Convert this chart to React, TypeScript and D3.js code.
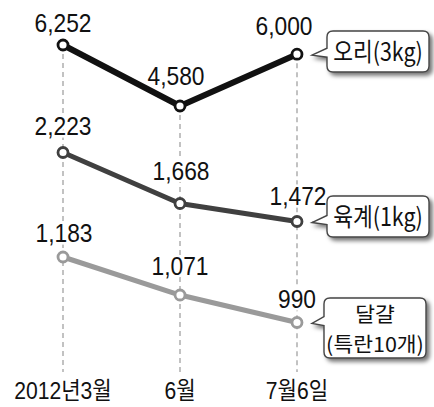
import React from 'react';
import * as d3 from 'd3';

const categories = ['2012년3월', '6월', '7월6일'];
const duckValues = [6252, 4580, 6000];
const broilerValues = [2223, 1668, 1472];
const eggValues = [1183, 1071, 990];
const duckLabel = ['오리(3kg)'];
const broilerLabel = ['육계(1kg)'];
const eggLabel = ['달걀', '(특란10개)'];

const W = 434;
const H = 407;
const NUM_FONT = "'Liberation Sans', Arial, sans-serif";
const KR_FONT = "'Noto Sans CJK KR', 'Noto Sans', sans-serif";

const x = d3.scalePoint<string>().domain(categories).range([63, 297]);

type Series = {
  values: number[];
  label: string[];
  y: d3.ScaleLinear<number, number>;
  color: string;
  width: number;
  labelDy: number[];
  labelDx: number[];
  box: { x0: number; y0: number; x1: number; y1: number };
};

const series: Series[] = [
  {
    values: duckValues,
    label: duckLabel,
    y: d3.scaleLinear().domain([4580, 6252]).range([106, 45]),
    color: '#111111',
    width: 6,
    labelDy: [-13, -21, -19],
    labelDx: [0, -4, -13],
    box: { x0: 327, y0: 31, x1: 429, y1: 72 },
  },
  {
    values: broilerValues,
    label: broilerLabel,
    y: d3.scaleLinear().domain([1472, 2223]).range([221.5, 152.5]),
    color: '#404040',
    width: 5,
    labelDy: [-18, -23, -17],
    labelDx: [0, 1, 1],
    box: { x0: 327, y0: 196, x1: 429, y1: 237 },
  },
  {
    values: eggValues,
    label: eggLabel,
    y: d3.scaleLinear().domain([990, 1183]).range([322.5, 257]),
    color: '#9a9a9a',
    width: 5,
    labelDy: [-15, -20, -15],
    labelDx: [1, 0, 0],
    box: { x0: 324, y0: 298, x1: 426, y1: 358 },
  },
];

const fmt = d3.format(',');

function calloutPath(b: { x0: number; y0: number; x1: number; y1: number }, py: number, tipX: number) {
  const r = 6;
  const { x0, y0, x1, y1 } = b;
  return [
    `M${x0 + r},${y0}`,
    `H${x1 - r}`,
    `Q${x1},${y0} ${x1},${y0 + r}`,
    `V${y1 - r}`,
    `Q${x1},${y1} ${x1 - r},${y1}`,
    `H${x0 + r}`,
    `Q${x0},${y1} ${x0},${y1 - r}`,
    `V${py + 2}`,
    `L${tipX},${py}`,
    `L${x0},${py - 7}`,
    `V${y0 + r}`,
    `Q${x0},${y0} ${x0 + r},${y0}`,
    'Z',
  ].join(' ');
}

function NarrowText(props: {
  x: number;
  y: number;
  sx: number;
  children: React.ReactNode;
  fontFamily: string;
  fontSize: number;
  halo?: boolean;
  dy?: string;
}) {
  const { x: tx, y: ty, sx, children, fontFamily, fontSize, halo, dy } = props;
  return (
    <g transform={`translate(${tx},${ty}) scale(${sx},1)`}>
      <text
        x={0}
        y={0}
        dy={dy}
        textAnchor="middle"
        fontFamily={fontFamily}
        fontSize={fontSize}
        fill="#111"
        stroke={halo ? '#fff' : 'none'}
        strokeWidth={halo ? 5 : 0}
        paintOrder="stroke"
        strokeLinejoin="round"
      >
        {children}
      </text>
    </g>
  );
}

export default function App() {
  const line = d3.line<number>().x((_, i) => x(categories[i]) as number);

  const topSeries = series[0];
  const dashBottom = 372;

  return (
    <svg
      width={W}
      height={H}
      viewBox={`0 0 ${W} ${H}`}
      style={{ position: 'absolute', left: 0, top: 0, background: '#fff' }}
    >
      <defs>
        <filter id="shadow" x="-20%" y="-20%" width="150%" height="160%">
          <feDropShadow dx="3" dy="3" stdDeviation="2" floodColor="#000" floodOpacity="0.55" />
        </filter>
      </defs>
      <rect x={0} y={0} width={W} height={H} fill="#fff" />

      {/* dashed guides */}
      {categories.map((c, i) => (
        <line
          key={c}
          x1={x(c)}
          x2={x(c)}
          y1={topSeries.y(topSeries.values[i])}
          y2={dashBottom}
          stroke="#9a9a9a"
          strokeWidth={1.2}
          strokeDasharray="5 4"
        />
      ))}

      {/* value labels with white halo */}
      {series.map((s, si) =>
        s.values.map((v, i) => (
          <NarrowText
            key={`l${si}-${i}`}
            x={(x(categories[i]) as number) + s.labelDx[i]}
            y={s.y(v) + s.labelDy[i]}
            sx={0.86}
            fontFamily={NUM_FONT}
            fontSize={26.5}
            halo
          >
            {fmt(v)}
          </NarrowText>
        ))
      )}

      {/* lines */}
      {series.map((s, si) => {
        const l = line.y((d) => s.y(d));
        return (
          <path
            key={`p${si}`}
            d={l(s.values) || ''}
            fill="none"
            stroke={s.color}
            strokeWidth={s.width}
            strokeLinejoin="round"
            strokeLinecap="round"
          />
        );
      })}

      {/* markers */}
      {series.map((s, si) =>
        s.values.map((v, i) => (
          <circle
            key={`c${si}-${i}`}
            cx={x(categories[i])}
            cy={s.y(v)}
            r={5}
            fill="#fff"
            stroke={s.color}
            strokeWidth={2.8}
          />
        ))
      )}

      {/* callouts */}
      {series.map((s, si) => {
        const last = s.values[s.values.length - 1];
        const py = s.y(last);
        const lastX = x(categories[categories.length - 1]) as number;
        const cx = (s.box.x0 + s.box.x1) / 2;
        const cy = (s.box.y0 + s.box.y1) / 2;
        const multi = s.label.length > 1;
        const lh = 30;
        const fs = multi ? 20.5 : 25;
        const sx = multi ? 1.05 : 0.86;
        const startY = cy - ((s.label.length - 1) * lh) / 2 + (multi ? 2 : 0);
        return (
          <g key={`b${si}`}>
            <path
              d={calloutPath(s.box, py + 1, lastX + 15)}
              fill="#fff"
              stroke="#444"
              strokeWidth={1.4}
              filter="url(#shadow)"
            />
            <g transform={`translate(${cx},${startY}) scale(${sx},1)`}>
              <text textAnchor="middle" fontFamily={KR_FONT} fontSize={fs} fill="#111">
                {s.label.map((t, k) => (
                  <tspan key={k} x={0} y={k * lh} dy="0.36em">
                    {t}
                  </tspan>
                ))}
              </text>
            </g>
          </g>
        );
      })}

      {/* x-axis labels */}
      {categories.map((c) => (
        <NarrowText
          key={`x${c}`}
          x={x(c) as number}
          y={399}
          sx={0.88}
          fontFamily={`${NUM_FONT.split(',')[0]}, ${KR_FONT}`}
          fontSize={24}
        >
          {c}
        </NarrowText>
      ))}
    </svg>
  );
}
